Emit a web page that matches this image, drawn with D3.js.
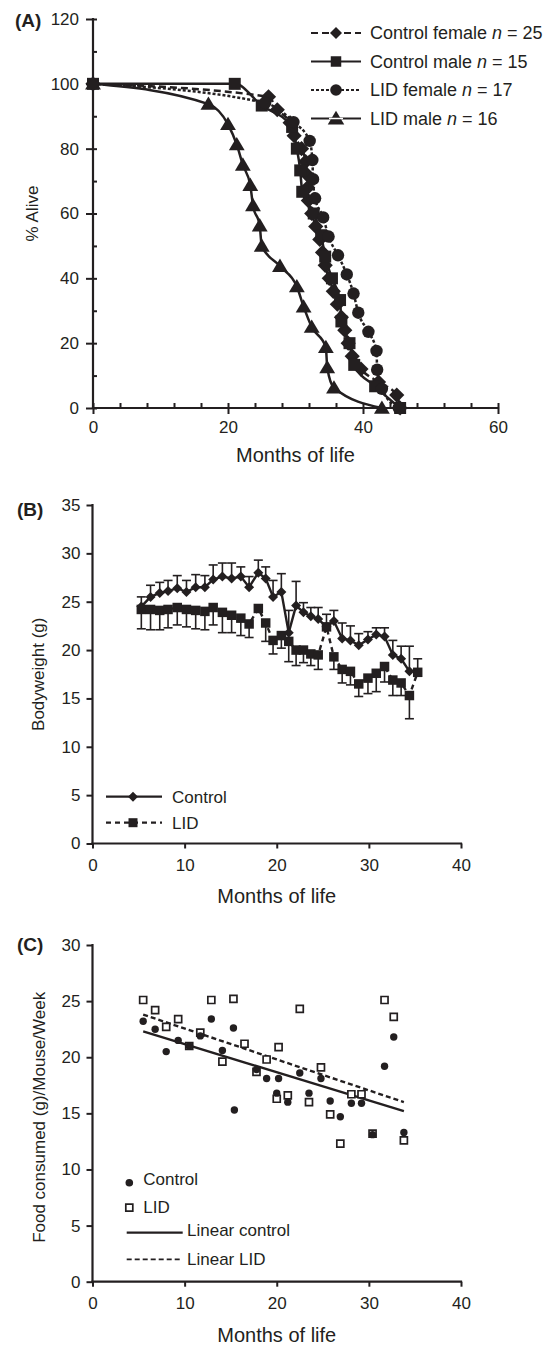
<!DOCTYPE html>
<html><head><meta charset="utf-8">
<script src="https://cdn.jsdelivr.net/npm/d3@7"></script>
<style>
body{margin:0;background:#fff}
svg{display:block}
text{font-family:"Liberation Sans",Arial,Helvetica,sans-serif;fill:#231f20}
</style>
</head><body>
<svg id="chart" width="553" height="1346"></svg>
<script>
// ---------- Panel A : survival ----------
const survivalLabels = ["Control female", "Control male", "LID female", "LID male"];
const survivalN = [25, 15, 17, 16];
const ctrlFemaleMonths = [0, 26.0, 27.3, 29.2, 29.8, 30.9, 31.5, 31.7, 31.8, 31.9, 32.4, 33.0, 33.6, 34.0, 34.4, 35.0, 35.6, 36.2, 36.8, 37.3, 37.8, 38.4, 39.7, 42.3, 45.0, 45.5];
const ctrlFemaleAlive  = [100, 96, 92, 88, 84, 80, 76, 72, 68, 64, 60, 56, 52, 48, 44, 40, 36, 32, 28, 24, 20, 16, 12, 8, 4, 0];
const ctrlMaleMonths = [0, 21.0, 25.0, 29.5, 30.2, 30.7, 31.0, 32.7, 33.8, 34.4, 35.4, 36.6, 36.8, 38.0, 38.7, 41.8, 45.5];
const ctrlMaleAlive  = [100, 100, 93.3, 86.7, 80, 73.3, 66.7, 60, 53.3, 46.7, 40, 33.3, 26.7, 20, 13.3, 6.7, 0];
const lidFemaleMonths = [0, 25.5, 29.7, 32.1, 32.5, 32.6, 32.9, 34.1, 34.9, 36.3, 37.6, 38.6, 39.3, 40.8, 42.0, 42.1, 42.8, 45.3];
const lidFemaleAlive  = [100, 94.1, 88.2, 82.4, 76.5, 70.6, 64.7, 58.8, 52.9, 47.1, 41.2, 35.3, 29.4, 23.5, 17.6, 11.8, 5.9, 0];
const lidMaleMonths = [0, 17.1, 20.0, 21.3, 22.2, 23.3, 23.7, 24.7, 25.0, 27.7, 30.2, 31.2, 32.4, 34.5, 34.7, 35.7, 42.8];
const lidMaleAlive  = [100, 93.75, 87.5, 81.25, 75, 68.75, 62.5, 56.25, 50, 43.75, 37.5, 31.25, 25, 18.75, 12.5, 6.25, 0];
const aliveTicks = [0, 20, 40, 60, 80, 100, 120];
const aliveMinorTicks = [0, 10, 20, 30, 40, 50, 60, 70, 80, 90, 100, 110, 120];
const monthsTicksA = [0, 20, 40, 60];
const monthsMinorTicksA = [0, 4, 8, 12, 16, 20, 24, 28, 32, 36, 40, 44, 48, 52, 56, 60];

// ---------- Panel B : bodyweight ----------
const bwMonths = [5.3, 6.3, 7.3, 8.2, 9.2, 10.2, 11.2, 12.2, 13.1, 14.1, 15.1, 16.1, 17.0, 18.0, 18.8, 19.6, 20.5, 21.3, 22.1, 22.9, 23.7, 24.5, 25.4, 26.2, 27.1, 28.0, 28.9, 29.9, 30.8, 31.7, 32.6, 33.5, 34.4, 35.3];
const bwControl = [24.5, 25.5, 25.9, 26.1, 26.4, 26.0, 26.5, 26.5, 27.3, 27.6, 27.4, 27.6, 26.5, 28.0, 27.4, 25.5, 26.0, 21.8, 24.6, 23.9, 23.5, 23.2, 22.4, 23.0, 21.2, 21.0, 20.5, 21.1, 21.6, 21.4, 19.5, 19.1, 17.8];
const bwControlErrTop = [25.5, 26.7, 27.0, 27.2, 27.7, 27.2, 27.8, 27.7, 28.8, 29.0, 29.0, 28.6, 27.6, 29.3, 28.6, 27.2, 27.9, 24.1, 27.1, 24.9, 24.4, 24.4, 23.7, 24.1, 22.8, 22.5, 21.7, 21.9, 22.3, 22.3, 21.0, 20.4, 20.4];
const bwLID = [24.2, 24.2, 24.1, 24.2, 24.4, 24.2, 24.1, 24.0, 24.4, 23.9, 23.6, 23.3, 22.7, 24.3, 22.8, 21.0, 21.5, 20.9, 20.0, 20.0, 19.6, 19.5, 22.4, 19.3, 18.0, 17.8, 16.5, 17.1, 17.6, 18.3, 16.9, 16.6, 15.3, 17.7];
const bwLIDErrBottom = [22.2, 22.1, 22.1, 22.3, 22.6, 22.4, 22.2, 22.1, 22.6, 21.8, 21.8, 21.5, 21.3, null, 20.9, 19.6, 20.2, 18.8, 18.4, 18.7, 18.4, 18.0, null, 18.0, 16.6, 16.4, 15.2, 15.5, 15.7, 16.7, 15.3, 15.3, 12.9, null];
const bwLIDErrTop = [null, null, null, null, null, null, null, null, null, null, null, null, null, null, null, null, null, null, null, null, null, null, null, null, null, null, null, null, null, null, null, null, null, 19.1];
const bwTicks = [0, 5, 10, 15, 20, 25, 30, 35];
const monthsTicksBC = [0, 10, 20, 30, 40];
const bwLegend = ["Control", "LID"];

// ---------- Panel C : food consumption ----------
const foodCtrlMonths = [5.5, 6.8, 8.0, 9.3, 10.5, 11.7, 12.9, 14.1, 15.3, 15.4, 17.8, 18.9, 20.0, 20.2, 21.2, 22.5, 23.5, 24.8, 25.8, 26.9, 28.1, 29.2, 30.4, 31.7, 32.7, 33.8];
const foodCtrl       = [23.2, 22.5, 20.5, 21.5, 21.0, 21.9, 23.4, 20.6, 22.6, 15.3, 18.9, 18.1, 16.8, 18.1, 16.0, 18.6, 16.8, 18.1, 16.1, 14.7, 15.9, 15.9, 13.1, 19.2, 21.8, 13.3];
const foodLIDMonths = [5.5, 6.8, 8.0, 9.3, 10.5, 11.7, 12.9, 14.1, 15.3, 16.5, 17.8, 18.9, 20.2, 20.0, 21.2, 22.5, 23.5, 24.8, 25.8, 26.9, 28.1, 29.2, 30.4, 31.7, 32.7, 33.8];
const foodLID       = [25.1, 24.2, 22.7, 23.4, 21.0, 22.2, 25.1, 19.6, 25.2, 21.2, 18.7, 19.8, 20.9, 16.3, 16.6, 24.3, 16.0, 19.1, 14.9, 12.3, 16.7, 16.7, 13.2, 25.1, 23.6, 12.6];
const trendCtrlMonths = [5.5, 33.8];
const trendCtrl       = [22.3, 15.2];
const trendLIDMonths  = [5.5, 33.8];
const trendLID        = [23.8, 16.0];
const foodTicks = [0, 5, 10, 15, 20, 25, 30];
const foodLegend = ["Control", "LID", "Linear control", "Linear LID"];

// ---------- drawing ----------
const INK = "#231f20";
const FONT = '"Liberation Sans", Arial, Helvetica, sans-serif';
const svg = d3.select("#chart");

function zip(xs, ys) { return xs.map((x, i) => [x, ys[i]]); }

function diamondPath(r) { return `M0,${-r}L${r},0L0,${r}L${-r},0Z`; }
function squarePath(s) { const h = s / 2; return `M${-h},${-h}H${h}V${h}H${-h}Z`; }
function trianglePath(r) { return `M0,${-r * 1.05}L${r * 1.1},${r * 0.8}L${-r * 1.1},${r * 0.8}Z`; }

function styleAxis(g, size) {
  g.attr("font-size", size).attr("font-family", FONT).attr("color", INK);
  g.selectAll(".tick line").attr("stroke-width", 2);
  g.select(".domain").remove();
}

function axisLine(x1, y1, x2, y2) {
  svg.append("line").attr("x1", x1).attr("y1", y1).attr("x2", x2).attr("y2", y2)
    .attr("stroke", INK).attr("stroke-width", 2.2).attr("stroke-linecap", "square");
}

// ===== Panel A =====
const xA = d3.scaleLinear().domain([0, 60]).range([93, 498]);
const yA = d3.scaleLinear().domain([0, 120]).range([408, 19]);

svg.append("g").attr("transform", `translate(${xA(0)},0)`)
  .call(d3.axisLeft(yA).tickValues(aliveTicks).tickSize(7).tickPadding(7))
  .call(g => styleAxis(g, 17));
svg.append("g").attr("transform", `translate(${xA(0)},0)`)
  .call(d3.axisRight(yA).tickValues(aliveMinorTicks).tickSize(4).tickFormat(""))
  .call(g => styleAxis(g, 17));
svg.append("g").attr("transform", `translate(0,${yA(0)})`)
  .call(d3.axisBottom(xA).tickValues(monthsTicksA).tickSize(6).tickPadding(7))
  .call(g => styleAxis(g, 17));
svg.append("g").attr("transform", `translate(0,${yA(0)})`)
  .call(d3.axisTop(xA).tickValues(monthsMinorTicksA).tickSize(5).tickFormat(""))
  .call(g => styleAxis(g, 17));
axisLine(xA(0), yA(0), xA(0), yA(120));
axisLine(xA(0), yA(0), xA(60), yA(0));

svg.append("text").attr("x", 15).attr("y", 27).attr("font-size", 19).attr("font-weight", "bold").text("(A)");
svg.append("text").attr("transform", `translate(32,${(yA(0) + yA(120)) / 2}) rotate(-90)`)
  .attr("text-anchor", "middle").attr("dy", "0.35em").attr("font-size", 17).text("% Alive");
svg.append("text").attr("x", (xA(0) + xA(60)) / 2).attr("y", 462).attr("text-anchor", "middle")
  .attr("font-size", 20).text("Months of life");

const lineA = d3.line().x(d => xA(d[0])).y(d => yA(d[1])).curve(d3.curveMonotoneX);
const seriesA = [
  { data: zip(ctrlFemaleMonths, ctrlFemaleAlive), dash: "7,4", shape: "diamond" },
  { data: zip(ctrlMaleMonths, ctrlMaleAlive), dash: null, shape: "square" },
  { data: zip(lidFemaleMonths, lidFemaleAlive), dash: "3,2", shape: "circle" },
  { data: zip(lidMaleMonths, lidMaleAlive), dash: null, shape: "triangle" }
];
function markerA(sel, shape) {
  if (shape === "circle") return sel.append("circle").attr("r", 6.2).attr("fill", INK);
  const p = shape === "diamond" ? diamondPath(7.6) : shape === "square" ? squarePath(12) : trianglePath(7.2);
  return sel.append("path").attr("d", p).attr("fill", INK);
}
seriesA.forEach(s => {
  svg.append("path").attr("d", lineA(s.data)).attr("fill", "none").attr("stroke", INK)
    .attr("stroke-width", 2.5).attr("stroke-dasharray", s.dash);
});
seriesA.forEach(s => {
  s.data.forEach(d => {
    const g = svg.append("g").attr("transform", `translate(${xA(d[0])},${yA(d[1])})`);
    markerA(g, s.shape);
  });
});
// legend A
const legA = svg.append("g");
seriesA.forEach((s, i) => {
  const y = 33 + i * 28.5;
  legA.append("line").attr("x1", 311).attr("x2", 361).attr("y1", y).attr("y2", y)
    .attr("stroke", INK).attr("stroke-width", 2.2).attr("stroke-dasharray", s.dash);
  const g = legA.append("g").attr("transform", `translate(336,${y})`);
  if (s.shape === "diamond") g.append("path").attr("d", diamondPath(6)).attr("fill", INK);
  else if (s.shape === "square") g.append("path").attr("d", squarePath(10.5)).attr("fill", INK);
  else if (s.shape === "circle") g.append("circle").attr("r", 5.8).attr("fill", INK);
  else {
    g.append("path").attr("d", trianglePath(7.5)).attr("fill", INK);
    g.append("line").attr("x1", -7).attr("x2", 7).attr("y1", 0).attr("y2", 0).attr("stroke", "#fff").attr("stroke-width", 1.5);
  }
  const t = legA.append("text").attr("x", 370).attr("y", y).attr("dy", "0.35em").attr("font-size", 18);
  t.append("tspan").text(survivalLabels[i] + " ");
  t.append("tspan").attr("font-style", "italic").text("n");
  t.append("tspan").text(" = " + survivalN[i]);
});

// ===== Panel B =====
const xB = d3.scaleLinear().domain([0, 40]).range([92.5, 461]);
const yB = d3.scaleLinear().domain([0, 35]).range([843.5, 505]);

svg.append("g").attr("transform", `translate(${xB(0)},0)`)
  .call(d3.axisLeft(yB).tickValues(bwTicks).tickSize(6).tickPadding(6))
  .call(g => styleAxis(g, 17));
svg.append("g").attr("transform", `translate(0,${yB(0)})`)
  .call(d3.axisBottom(xB).tickValues(monthsTicksBC).tickSize(5).tickPadding(10))
  .call(g => styleAxis(g, 17));
axisLine(xB(0), yB(0), xB(0), yB(35));
axisLine(xB(0), yB(0), xB(40), yB(0));

svg.append("text").attr("x", 17).attr("y", 516).attr("font-size", 19).attr("font-weight", "bold").text("(B)");
svg.append("text").attr("transform", `translate(38,${(yB(0) + yB(35)) / 2}) rotate(-90)`)
  .attr("text-anchor", "middle").attr("dy", "0.35em").attr("font-size", 17).text("Bodyweight (g)");
svg.append("text").attr("x", (xB(0) + xB(40)) / 2).attr("y", 903).attr("text-anchor", "middle")
  .attr("font-size", 20).text("Months of life");

function errBar(x, y1, y2) {
  svg.append("line").attr("x1", x).attr("x2", x).attr("y1", y1).attr("y2", y2)
    .attr("stroke", INK).attr("stroke-width", 1.6);
  svg.append("line").attr("x1", x - 4.5).attr("x2", x + 4.5).attr("y1", y2).attr("y2", y2)
    .attr("stroke", INK).attr("stroke-width", 1.6);
}
bwControl.forEach((v, i) => errBar(xB(bwMonths[i]), yB(v), yB(bwControlErrTop[i])));
bwLID.forEach((v, i) => {
  if (bwLIDErrBottom[i] != null) errBar(xB(bwMonths[i]), yB(v), yB(bwLIDErrBottom[i]));
  if (bwLIDErrTop[i] != null) errBar(xB(bwMonths[i]), yB(v), yB(bwLIDErrTop[i]));
});
const lineB = d3.line().x(d => xB(d[0])).y(d => yB(d[1]));
const ctrlB = bwControl.map((v, i) => [bwMonths[i], v]);
const lidB = bwLID.map((v, i) => [bwMonths[i], v]);
svg.append("path").attr("d", lineB(lidB)).attr("fill", "none").attr("stroke", INK)
  .attr("stroke-width", 2.4).attr("stroke-dasharray", "5,4");
svg.append("path").attr("d", lineB(ctrlB)).attr("fill", "none").attr("stroke", INK).attr("stroke-width", 2.4);
lidB.forEach(d => svg.append("path").attr("d", squarePath(9.5)).attr("fill", INK)
  .attr("transform", `translate(${xB(d[0])},${yB(d[1])})`));
ctrlB.forEach(d => svg.append("path").attr("d", diamondPath(5)).attr("fill", INK)
  .attr("transform", `translate(${xB(d[0])},${yB(d[1])})`));
// legend B
[0, 1].forEach(i => {
  const y = 796.7 + i * 26;
  svg.append("line").attr("x1", 106).attr("x2", 162).attr("y1", y).attr("y2", y)
    .attr("stroke", INK).attr("stroke-width", 2.2).attr("stroke-dasharray", i === 0 ? null : "5,4");
  svg.append("path").attr("d", i === 0 ? diamondPath(5) : squarePath(9)).attr("fill", INK)
    .attr("transform", `translate(133,${y})`);
  svg.append("text").attr("x", 172).attr("y", y).attr("dy", "0.35em").attr("font-size", 17).text(bwLegend[i]);
});

// ===== Panel C =====
const xC = d3.scaleLinear().domain([0, 40]).range([92.5, 461]);
const yC = d3.scaleLinear().domain([0, 30]).range([1281.7, 945]);

svg.append("g").attr("transform", `translate(${xC(0)},0)`)
  .call(d3.axisLeft(yC).tickValues(foodTicks).tickSize(6).tickPadding(6))
  .call(g => styleAxis(g, 17));
svg.append("g").attr("transform", `translate(0,${yC(0)})`)
  .call(d3.axisBottom(xC).tickValues(monthsTicksBC).tickSize(5).tickPadding(10))
  .call(g => styleAxis(g, 17));
axisLine(xC(0), yC(0), xC(0), yC(30));
axisLine(xC(0), yC(0), xC(40), yC(0));

svg.append("text").attr("x", 17).attr("y", 951).attr("font-size", 19).attr("font-weight", "bold").text("(C)");
svg.append("text").attr("transform", `translate(39,${(yC(0) + yC(30)) / 2 + 4}) rotate(-90)`)
  .attr("text-anchor", "middle").attr("dy", "0.35em").attr("font-size", 17).text("Food consumed (g)/Mouse/Week");
svg.append("text").attr("x", (xC(0) + xC(40)) / 2).attr("y", 1342).attr("text-anchor", "middle")
  .attr("font-size", 20).text("Months of life");

const lineC = d3.line().x(d => xC(d[0])).y(d => yC(d[1]));
svg.append("path").attr("d", lineC(zip(trendCtrlMonths, trendCtrl))).attr("fill", "none")
  .attr("stroke", INK).attr("stroke-width", 2.4);
svg.append("path").attr("d", lineC(zip(trendLIDMonths, trendLID))).attr("fill", "none")
  .attr("stroke", INK).attr("stroke-width", 2.4).attr("stroke-dasharray", "5,3");
zip(foodLIDMonths, foodLID).forEach(d => svg.append("path").attr("d", squarePath(7))
  .attr("fill", "#fff").attr("stroke", INK).attr("stroke-width", 1.7)
  .attr("transform", `translate(${xC(d[0])},${yC(d[1])})`));
zip(foodCtrlMonths, foodCtrl).forEach(d => svg.append("circle").attr("r", 3.7).attr("fill", INK)
  .attr("cx", xC(d[0])).attr("cy", yC(d[1])));
// legend C
svg.append("circle").attr("cx", 129.3).attr("cy", 1182.7).attr("r", 3.8).attr("fill", INK);
svg.append("text").attr("x", 143.3).attr("y", 1179).attr("dy", "0.35em").attr("font-size", 17).text(foodLegend[0]);
svg.append("path").attr("d", squarePath(7)).attr("fill", "#fff").attr("stroke", INK).attr("stroke-width", 1.7)
  .attr("transform", "translate(129.3,1207.7)");
svg.append("text").attr("x", 143.3).attr("y", 1207).attr("dy", "0.35em").attr("font-size", 17).text(foodLegend[1]);
svg.append("line").attr("x1", 126.7).attr("x2", 182.7).attr("y1", 1232.7).attr("y2", 1232.7)
  .attr("stroke", INK).attr("stroke-width", 2.2);
svg.append("text").attr("x", 187).attr("y", 1230).attr("dy", "0.35em").attr("font-size", 17).text(foodLegend[2]);
svg.append("line").attr("x1", 126.7).attr("x2", 182.7).attr("y1", 1259.3).attr("y2", 1259.3)
  .attr("stroke", INK).attr("stroke-width", 1.8).attr("stroke-dasharray", "5,3");
svg.append("text").attr("x", 187).attr("y", 1259).attr("dy", "0.35em").attr("font-size", 17).text(foodLegend[3]);
</script>
</body></html>
